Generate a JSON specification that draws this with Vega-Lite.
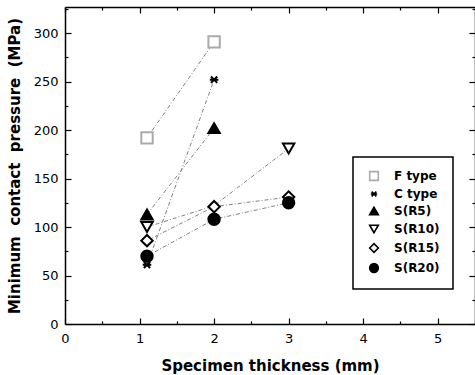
{
  "$schema": "https://vega.github.io/schema/vega-lite/v6.json",
  "width": 410,
  "height": 317,
  "autosize": {"type": "none"},
  "padding": {"left": 65, "top": 7, "right": 0, "bottom": 51},
  "background": "white",
  "config": {
    "view": {"stroke": null},
    "font": "DejaVu Sans",
    "axis": {
      "domainColor": "black",
      "domainWidth": 1.5,
      "tickColor": "black",
      "tickWidth": 1.2,
      "labelFont": "DejaVu Sans",
      "labelFontSize": 13,
      "labelColor": "black",
      "titleFont": "DejaVu Sans",
      "titleFontSize": 15,
      "titleFontWeight": "bold",
      "titleColor": "black",
      "grid": false
    },
    "legend": {
      "orient": "none",
      "legendX": 288,
      "legendY": 150,
      "strokeColor": "black",
      "strokeWidth": 1.5,
      "fillColor": "white",
      "padding": 13,
      "labelFont": "DejaVu Sans",
      "labelFontSize": 12,
      "labelFontWeight": "bold",
      "labelColor": "black",
      "symbolSize": 75,
      "symbolStrokeWidth": 1.6,
      "rowPadding": 4,
      "labelOffset": 14,
      "symbolOffset": 2
    }
  },
  "data": {
    "values": [
      {"series": "F type", "x": 1.1, "y": 192},
      {"series": "F type", "x": 2, "y": 291},
      {"series": "C type", "x": 1.1, "y": 61},
      {"series": "C type", "x": 2, "y": 252},
      {"series": "S(R5)", "x": 1.1, "y": 113},
      {"series": "S(R5)", "x": 2, "y": 202},
      {"series": "S(R10)", "x": 1.1, "y": 100},
      {"series": "S(R10)", "x": 2, "y": 122},
      {"series": "S(R10)", "x": 3, "y": 181},
      {"series": "S(R15)", "x": 1.1, "y": 86},
      {"series": "S(R15)", "x": 2, "y": 121},
      {"series": "S(R15)", "x": 3, "y": 131},
      {"series": "S(R20)", "x": 1.1, "y": 70},
      {"series": "S(R20)", "x": 2, "y": 108},
      {"series": "S(R20)", "x": 3, "y": 125}
    ]
  },
  "layer": [
    {
      "mark": {"type": "line", "stroke": "#808080", "strokeWidth": 1, "strokeDash": [4, 2, 1, 2]},
      "encoding": {
        "x": {
          "field": "x", "type": "quantitative",
          "scale": {"domain": [0, 5.5], "nice": false, "zero": false},
          "axis": {
            "orient": "bottom",
            "title": "Specimen thickness (mm)",
            "values": [0, 1, 2, 3, 4, 5],
            "format": "d",
            "ticks": false,
            "labelPadding": 8,
            "titlePadding": 13,
            "labelFlush": false
          }
        },
        "y": {
          "field": "y", "type": "quantitative",
          "scale": {"domain": [0, 327], "nice": false, "zero": true},
          "axis": {
            "orient": "left",
            "title": "Minimum\u00a0\u00a0contact\u00a0\u00a0pressure\u00a0\u00a0(MPa)",
            "values": [0, 50, 100, 150, 200, 250, 300],
            "format": "d",
            "ticks": false,
            "labelPadding": 7,
            "titlePadding": 11,
            "labelFlush": false
          }
        },
        "detail": {"field": "series"},
        "order": {"field": "x", "type": "quantitative"}
      }
    },
    {
      "transform": [{"filter": "!(datum.series === 'S(R10)' && datum.x === 2)"}],
      "mark": {"type": "point", "filled": true, "strokeWidth": 2, "size": 130, "opacity": 1},
      "encoding": {
        "x": {
          "field": "x", "type": "quantitative",
          "axis": {
            "orient": "top", "offset": -317, "title": null, "labels": false, "domain": false,
            "values": [0, 0.5, 1, 1.5, 2, 2.5, 3, 3.5, 4, 4.5, 5, 5.5],
            "tickSize": {"condition": {"test": "datum.value % 1 === 0", "value": 6}, "value": 3}
          }
        },
        "y": {
          "field": "y", "type": "quantitative",
          "axis": {
            "orient": "right", "offset": -410, "title": null, "labels": false, "domain": false,
            "values": [0, 25, 50, 75, 100, 125, 150, 175, 200, 225, 250, 275, 300, 325],
            "tickSize": {"condition": {"test": "datum.value % 50 === 0", "value": 6}, "value": 3}
          }
        },
        "shape": {
          "field": "series", "type": "nominal", "title": null,
          "scale": {
            "domain": ["F type", "C type", "S(R5)", "S(R10)", "S(R15)", "S(R20)"],
            "range": ["square", "M-0.55,-0.55L0.55,0.55M-0.55,0.55L0.55,-0.55M-0.75,0L0.75,0", "triangle-up", "triangle-down", "diamond", "circle"]
          }
        },
        "fill": {
          "field": "series", "type": "nominal", "title": null,
          "scale": {
            "domain": ["F type", "C type", "S(R5)", "S(R10)", "S(R15)", "S(R20)"],
            "range": ["white", "white", "black", "white", "white", "black"]
          }
        },
        "stroke": {
          "field": "series", "type": "nominal", "title": null,
          "scale": {
            "domain": ["F type", "C type", "S(R5)", "S(R10)", "S(R15)", "S(R20)"],
            "range": ["#aaaaaa", "black", "black", "black", "black", "black"]
          }
        }
      }
    },
    {
      "mark": {"type": "point", "opacity": 0},
      "encoding": {
        "x": {
          "field": "x", "type": "quantitative",
          "axis": {
            "orient": "bottom", "offset": -317, "title": null, "labels": false, "domain": true,
            "values": [0, 0.5, 1, 1.5, 2, 2.5, 3, 3.5, 4, 4.5, 5, 5.5],
            "tickSize": {"condition": {"test": "datum.value % 1 === 0", "value": 6}, "value": 3}
          }
        },
        "y": {
          "field": "y", "type": "quantitative",
          "axis": {
            "orient": "left", "offset": -410, "title": null, "labels": false, "domain": true,
            "values": [0, 25, 50, 75, 100, 125, 150, 175, 200, 225, 250, 275, 300, 325],
            "tickSize": {"condition": {"test": "datum.value % 50 === 0", "value": 6}, "value": 3}
          }
        }
      }
    }
  ],
  "resolve": {"axis": {"x": "independent", "y": "independent"}}
}
